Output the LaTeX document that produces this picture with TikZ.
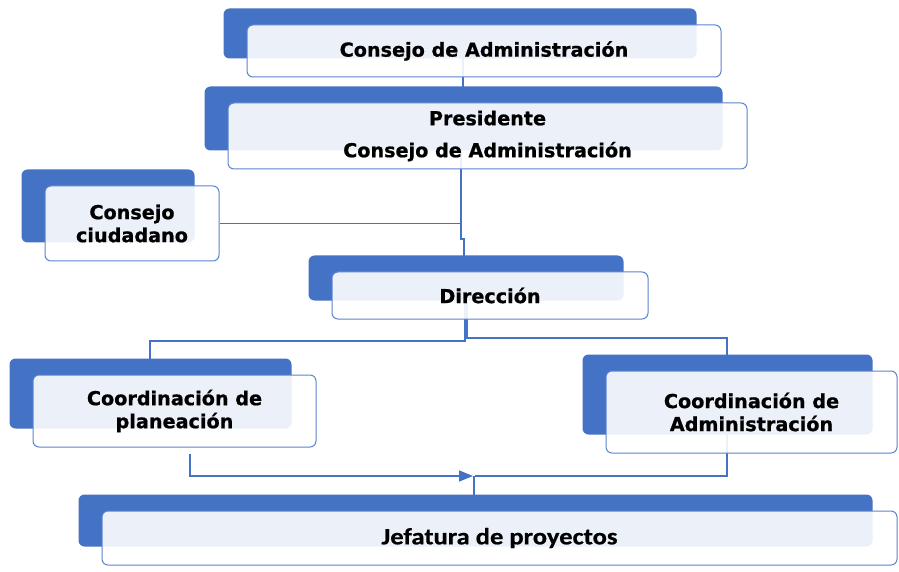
\documentclass[tikz,border=0pt]{standalone}
\usepackage{fontspec}
\usepackage{graphicx}
\setmainfont{DejaVu Sans}[BoldFeatures={FakeBold=0.8}]
\newfontfamily\calib{Carlito}[BoldFeatures={FakeBold=0.6}]
\usetikzlibrary{calc,backgrounds,arrows.meta}
\definecolor{backblue}{HTML}{4472C4}
\definecolor{edgeblue}{HTML}{5B84D0}
\definecolor{lineblue}{HTML}{4472C4}
\tikzset{
  frontbox/.style={draw=edgeblue, line width=1pt, fill=white, fill opacity=0.9, text opacity=1,
    rounded corners=6pt, inner sep=0pt, align=center, text=black,
    font=\fontsize{19.2}{23}\selectfont\bfseries},
  conn/.style={draw=lineblue, line width=1.6pt},
  backbox/.style={fill=backblue, rounded corners=6pt}
}
\begin{document}
\begin{tikzpicture}[x=1pt,y=1pt]
\useasboundingbox (0,0) rectangle (899,571);
\node[frontbox, minimum width=474pt, minimum height=52pt] (b1) at (484,520) {Consejo de Administración};
\node[frontbox, minimum width=519pt, minimum height=66pt] (b2) at (487.5,435) {Presidente\\[9pt]Consejo de Administración};
\node[frontbox, minimum width=174pt, minimum height=75pt] (b3) at (132,347.5) {Consejo\\ciudadano};
\node[frontbox, minimum width=316pt, minimum height=47pt] (b4) at (490,275.5) {Dirección};
\node[frontbox, minimum width=283pt, minimum height=72pt] (b5) at (174.5,160) {Coordinación de\\planeación};
\node[frontbox, minimum width=291pt, minimum height=82pt] (b6) at (751.5,159) {Coordinación de\\Administración};
\node[frontbox, minimum width=795pt, minimum height=54pt] (b7) at (499.5,33) {\calib\fontsize{23.3}{26}\selectfont\bfseries\scalebox{1.14}[1]{Jefatura de proyectos}};
\begin{pgfonlayer}{background}
  \foreach \b in {b1,b2,b3,b4,b5,b6,b7}{
    \fill[backbox] ($(\b.north west)+(-23,16)$) rectangle ($(\b.south east)+(-25,19)$);
  }
  \coordinate (xa) at (463,0);
  \coordinate (xb) at (461,0);
  \coordinate (xc) at (464,0);
  \coordinate (xd) at (465,0);
  \coordinate (xe) at (467,0);
  \coordinate (xf) at (150,0);
  \coordinate (xg) at (727,0);
  \coordinate (xh) at (190,0);
  \coordinate (xi) at (474,0);
  \coordinate (jog) at (461,332);
  \coordinate (jl) at (465,230);
  \coordinate (jr) at (467,233);
  \coordinate (jm) at (474,95);
  % Consejo -> Presidente
  \draw[conn] (b1.center -| xa) -- (b2.center -| xa);
  % Presidente -> Direccion
  \draw[conn] (b2.center -| xb) -- (jog) -- ++(3,0) -- (b4.center -| xc);
  % Consejo ciudadano
  \draw[conn] (b3.east) -- (b3.east -| xb);
  % Direccion -> coordinaciones
  \draw[conn] (b4.center -| xd) -- (jl) -- (jl -| xf) -- (b5.center -| xf);
  \draw[conn] (b4.center -| xe) -- (jr) -- (jr -| xg) -- (b6.center -| xg);
  % coordinaciones -> jefatura
  \draw[conn, -{Triangle[length=14pt,width=11pt]}] ([yshift=-6pt]b5.south -| xh) -- (jm -| xh) -- ([xshift=-1pt]jm);
  \draw[conn] (b6.center -| xg) -- (jm -| xg) -- ([xshift=1pt]jm);
  \draw[conn] (jm) -- (b7.center -| xi);
\end{pgfonlayer}
\end{tikzpicture}
\end{document}
